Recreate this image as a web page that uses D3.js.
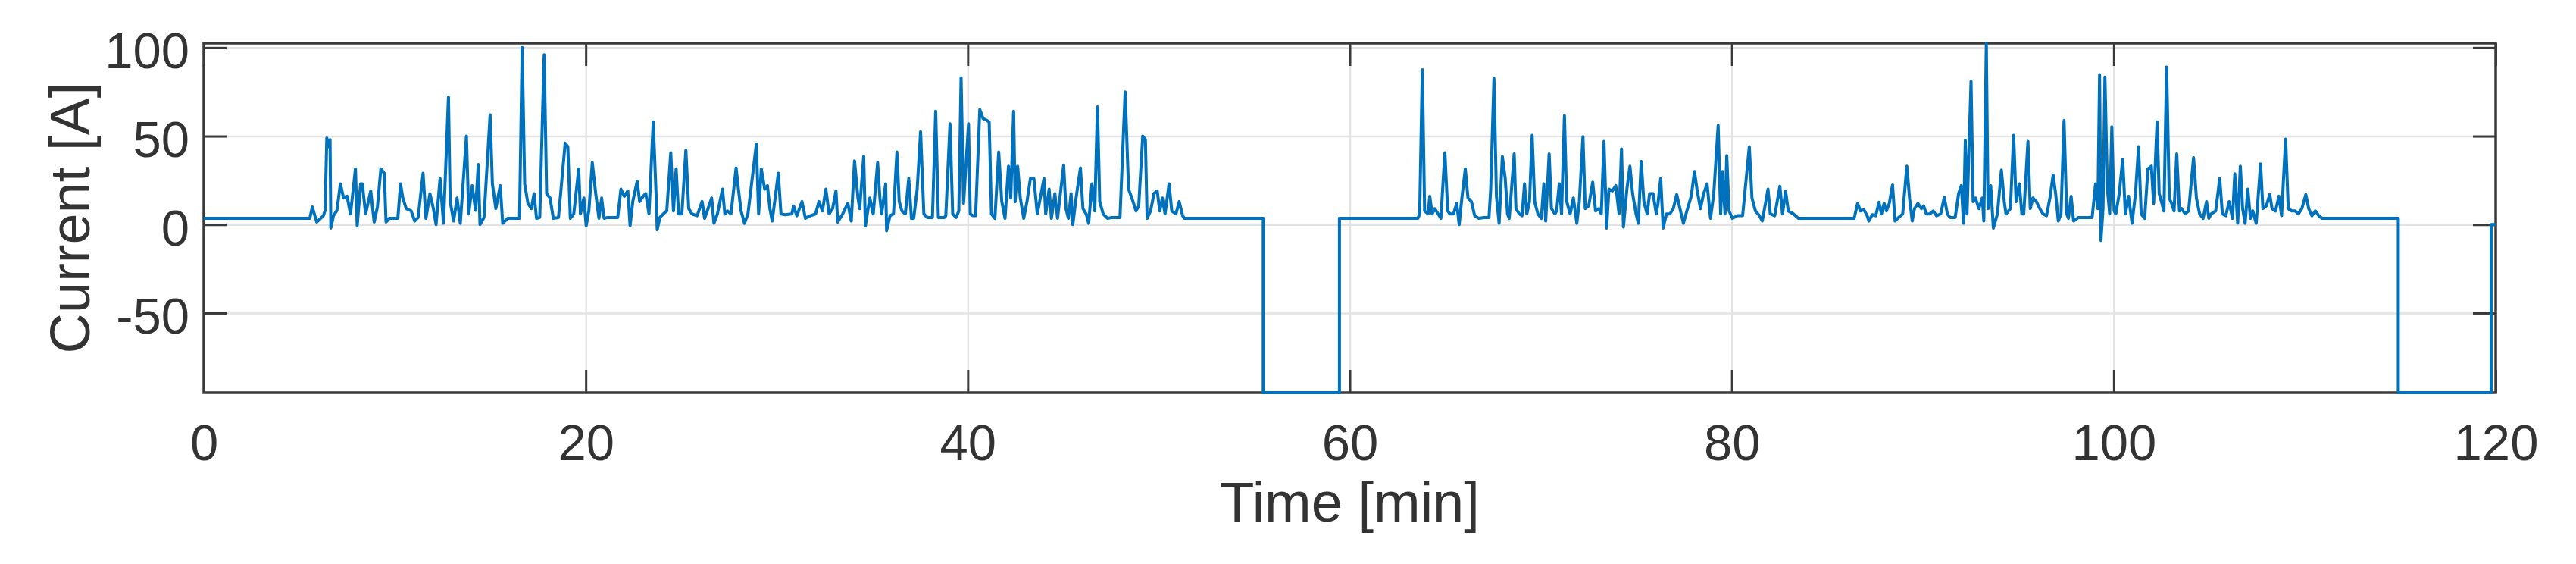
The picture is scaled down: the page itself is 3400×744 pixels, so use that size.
<!DOCTYPE html>
<html>
<head>
<meta charset="utf-8">
<script src="https://cdn.jsdelivr.net/npm/d3@7"></script>
<style>
  body { margin: 0; background: #fff; }
  svg { display: block; }
</style>
</head>
<body>
<svg id="chart" width="3400" height="744"></svg>
<script>
// * axis ticks and limits
const xTicks = [0, 20, 40, 60, 80, 100, 120];
const yTicks = [-50, 0, 50, 100];
const xLimits = [0, 120];
const yLimits = [-95, 102.5];

// * [time min, current A]
const drive1 = [
  [0, 3.5], [5.55, 3.5], [5.68, 10], [5.91, 1.4], [6.26, 5], [6.35, 8], [6.44, 49], [6.53, 44], [6.61, 48], [6.65, -2],
  [6.79, 5], [6.97, 8], [7.15, 23], [7.32, 15], [7.5, 16], [7.68, 6], [7.94, 31.5], [8.03, -0.7], [8.21, 23], [8.3, 23],
  [8.47, 6], [8.74, 19], [8.92, 1.4], [9.09, 10], [9.27, 31.5], [9.45, 29], [9.54, 1.4], [9.71, 3.5], [10.16, 3.5], [10.3, 23],
  [10.42, 15], [10.6, 9], [10.86, 7.7], [11.04, 2], [11.22, 4], [11.48, 29], [11.63, 3.5], [11.84, 17.5], [12.02, 9], [12.16, 0],
  [12.37, 26], [12.55, 0.7], [12.81, 72], [12.9, 13], [13.08, 2], [13.26, 15], [13.43, 0.7], [13.75, 50], [13.87, 6], [14.05, 22],
  [14.23, 8], [14.37, 34], [14.46, 0], [14.67, 4], [14.99, 62], [15.11, 23], [15.29, 9], [15.52, 22], [15.65, 0.7], [15.91, 3.5],
  [16.53, 3.5], [16.67, 100], [16.8, 23], [16.97, 12], [17.15, 9], [17.29, 17.5], [17.42, 3.5], [17.59, 4], [17.82, 96], [17.95, 17.5],
  [18.13, 15], [18.3, 3.5], [18.57, 4], [18.92, 46], [19.06, 44], [19.19, 3.5], [19.37, 6], [19.63, 31.5], [19.72, 6], [19.9, 15],
  [20.02, -0.7], [20.16, 7.7], [20.34, 35], [20.52, 17.5], [20.69, 3.5], [20.83, 15], [20.96, 3.5], [21.14, 4], [21.67, 4], [21.84, 20],
  [22.02, 16], [22.2, 19], [22.32, -0.7], [22.46, 13], [22.69, 24.5], [22.82, 13], [23.0, 16], [23.14, 17.5], [23.31, 6], [23.53, 58],
  [23.67, 20], [23.74, -3], [23.88, 4], [24.06, 6], [24.24, 7.7], [24.45, 40.6], [24.59, 7.7], [24.73, 31.5], [24.86, 6], [25.03, 6],
  [25.24, 42], [25.39, 9], [25.56, 6], [25.83, 5], [26.09, 13], [26.22, 3.5], [26.36, 7.7], [26.59, 15], [26.71, 0.7], [26.89, 6],
  [27.16, 20], [27.28, 6], [27.42, 7.7], [27.6, 6], [27.87, 32], [27.99, 20], [28.13, 7.7], [28.31, 0.7], [28.49, 6], [28.93, 45.5],
  [29.05, 6], [29.19, 31.5], [29.37, 20], [29.51, 22], [29.64, 9], [29.76, 2], [30.08, 29], [30.22, 6], [30.43, 5.6], [30.79, 6],
  [30.88, 10.5], [31.05, 5], [31.32, 13], [31.5, 3.5], [31.76, 5], [32.03, 6], [32.21, 13], [32.39, 7.7], [32.57, 20], [32.74, 6],
  [32.92, 9], [33.1, 19], [33.19, 1.4], [33.45, 6], [33.72, 12], [33.9, 2], [34.07, 36], [34.25, 15], [34.34, 9], [34.55, 38.5],
  [34.64, -0.7], [34.87, 15], [35.05, 6], [35.28, 35], [35.4, 15], [35.49, 6], [35.7, 23], [35.75, -3.5], [35.93, 5], [36.11, 6],
  [36.29, 41], [36.41, 13], [36.55, 7.7], [36.73, 6], [36.91, 26], [37.05, 3.5], [37.17, 3.5], [37.35, 20], [37.53, 52.5], [37.7, 6],
  [37.88, 4], [38.15, 4], [38.32, 64], [38.46, 4], [38.77, 4], [38.85, 5], [39.07, 57], [39.21, 6], [39.39, 4], [39.53, 7.7],
  [39.65, 83], [39.78, 12], [40.04, 57], [40.13, 6], [40.27, 5], [40.41, 5], [40.63, 65], [40.8, 60], [40.98, 59], [41.12, 58],
  [41.24, 6], [41.42, 3.5], [41.62, 41], [41.78, 13], [41.95, 3.5], [42.13, 33], [42.25, 15], [42.4, 64], [42.48, 13], [42.61, 33],
  [42.75, 15], [42.93, 3.5], [43.1, 13], [43.28, 26], [43.46, 26], [43.64, 6], [43.99, 26], [44.08, 6], [44.26, 20], [44.38, 3.5],
  [44.56, 17.5], [44.7, 3.5], [45.02, 33.6], [45.14, 9], [45.27, 3.5], [45.41, 17.5], [45.5, 0], [45.67, 15], [45.9, 32], [46.03, 9],
  [46.2, 6], [46.33, 0.7], [46.5, 23], [46.65, 7.7], [46.79, 66.5], [46.91, 13], [47.09, 6], [47.32, 3.5], [47.53, 4], [47.97, 4],
  [48.24, 75], [48.42, 20], [48.59, 15], [48.81, 7.7], [48.95, 10.5], [49.16, 50], [49.3, 48], [49.39, 3.5], [49.57, 7.7], [49.75, 17.5],
  [49.92, 19], [50.05, 7.7], [50.19, 15], [50.33, 6], [50.54, 23], [50.68, 7.7], [50.9, 6], [51.07, 13], [51.25, 5], [51.34, 3.5],
];

const charge1 = [
  [55.47, 3.5], [55.47, -95], [59.46, -95], [59.46, 3.5], [63.57, 3.5],
];

const drive2 = [
  [63.66, 6], [63.8, 87.5], [63.92, 7.7], [64.1, 6], [64.19, 16], [64.31, 6], [64.45, 9], [64.63, 6], [64.77, 3.5], [64.98, 40.6],
  [65.13, 7.7], [65.25, 6], [65.43, 6], [65.6, 12], [65.73, 0], [65.87, 15], [66.05, 31.5], [66.19, 15], [66.37, 13], [66.54, 5],
  [66.76, 3.5], [67.02, 4], [67.29, 4], [67.38, 20], [67.55, 82.6], [67.68, 16], [67.82, 0.7], [67.99, 38.5], [68.14, 26], [68.26, 6],
  [68.35, 3.5], [68.61, 40], [68.7, 9], [68.88, 6], [69.02, 5], [69.15, 23], [69.27, 6], [69.41, 13], [69.55, 50.4], [69.68, 13],
  [69.85, 6], [70.03, 3.5], [70.16, 23], [70.26, 2], [70.44, 40], [70.56, 9], [70.74, 6], [70.83, 7.7], [70.97, 23], [71.09, 6],
  [71.24, 61.6], [71.36, 13], [71.54, 6], [71.71, 15], [71.89, 0.7], [72.02, 13], [72.21, 49.7], [72.33, 9], [72.51, 10.5], [72.72, 24],
  [72.87, 7.7], [73.04, 9], [73.17, 6], [73.31, 47], [73.45, -2], [73.57, 20], [73.75, 19], [73.93, 22], [74.1, 6], [74.23, 42.7],
  [74.33, -1.4], [74.51, 20], [74.67, 33], [74.81, 17.5], [74.99, 6], [75.11, 0.7], [75.26, 35.7], [75.4, 13], [75.57, 6], [75.7, 17.5],
  [75.88, 17.5], [76.05, 6], [76.14, 12], [76.28, 26], [76.41, -2], [76.58, 6], [76.76, 6], [76.94, 9], [77.12, 17], [77.29, 9],
  [77.47, 0.7], [77.65, 7.7], [77.88, 16], [78.05, 30], [78.18, 20], [78.36, 9], [78.53, 17.5], [78.71, 23], [78.89, 3.5], [79.06, 17.5],
  [79.29, 56], [79.42, 6], [79.51, 30], [79.65, 6], [79.74, 39], [79.86, 7.7], [80.04, 3.5], [80.3, 5], [80.57, 5], [80.92, 44],
  [81.06, 15], [81.24, 7.7], [81.45, 5], [81.6, 2], [81.9, 20], [82.02, 6], [82.25, 5], [82.52, 21.7], [82.66, 6], [82.82, 19],
  [82.96, 7.7], [83.23, 6], [83.49, 3.5], [86.41, 3.5],
];

const drive3 = [
  [86.59, 12], [86.74, 7.7], [86.92, 8.4], [87.09, 5], [87.18, 2], [87.36, 5.6], [87.54, 5], [87.71, 12.6], [87.84, 6], [87.98, 12],
  [88.1, 7.7], [88.25, 12], [88.42, 22.4], [88.55, 2], [88.69, 3.5], [88.95, 6], [89.17, 33], [89.31, 15], [89.45, 2], [89.57, 9],
  [89.75, 12], [89.93, 9], [90.05, 10.5], [90.19, 6], [90.37, 6], [90.55, 7.7], [90.72, 5], [90.94, 6], [91.13, 15.4], [91.29, 6],
  [91.43, 4], [91.7, 4], [91.88, 17.5], [92.02, 22], [92.14, 0.7], [92.23, 47.6], [92.32, 6], [92.53, 81], [92.64, 13], [92.76, 15],
  [92.94, 9], [93.12, 15], [93.2, 2], [93.33, 102.5], [93.42, 9], [93.56, 22], [93.7, -2], [93.91, 6], [94.12, 30.8], [94.27, 13],
  [94.36, 6], [94.59, 9], [94.76, 50.4], [94.89, 13], [95.06, 23], [95.19, 6], [95.29, 6], [95.51, 47], [95.63, 9], [95.77, 15],
  [95.95, 13], [96.13, 9], [96.3, 6], [96.48, 5], [96.66, 15], [96.83, 28], [96.96, 17.5], [97.1, 2], [97.24, 6], [97.4, 58.8],
  [97.54, 6], [97.63, 3.5], [97.77, 16], [97.9, 2], [98.16, 4], [98.87, 4], [99.05, 23], [99.17, 9], [99.26, 84.7], [99.33, -9],
  [99.44, 9], [99.54, 83.3], [99.67, 20], [99.79, 6], [99.9, 55.3], [100.02, 7.7], [100.11, 6], [100.29, 17.5], [100.47, 37], [100.61, 6],
  [100.78, 16], [100.96, 0.7], [101.14, 17.5], [101.3, 44], [101.44, 6], [101.62, 3.5], [101.79, 31.5], [101.97, 33], [102.09, 12], [102.27, 58],
  [102.38, 17.5], [102.5, 13], [102.63, 7.7], [102.77, 89], [102.91, 15], [103.03, 12], [103.16, 7.7], [103.3, 40], [103.44, 7.7], [103.56, 9],
  [103.74, 6], [103.92, 7.7], [104.18, 37.8], [104.33, 15], [104.5, 6], [104.68, 3.5], [104.86, 13], [104.98, 3.5], [105.1, 6], [105.34, 7.7],
  [105.55, 26], [105.69, 6], [105.87, 5], [106.04, 13], [106.22, 3.5], [106.34, 28.7], [106.49, 0.7], [106.63, 33], [106.75, 9], [106.88, 0.7],
  [107.02, 20], [107.16, 3.5], [107.28, 7.7], [107.46, 0.7], [107.69, 34.3], [107.81, 9], [107.99, 10.5], [108.17, 17], [108.29, 9], [108.47, 7.7],
  [108.65, 16], [108.79, 5], [109.0, 48.3], [109.14, 9], [109.32, 7.7], [109.5, 7.7], [109.67, 6], [109.85, 9], [110.06, 17], [110.21, 9],
  [110.38, 5], [110.56, 7.7], [110.74, 5], [110.91, 3.5],
];

const charge2 = [
  [114.9, 3.5], [114.9, -95], [119.76, -95], [119.76, 0], [120, 0],
];

const FONT = "'Liberation Sans', Arial, Helvetica, sans-serif";
const TEXT_COLOR = "#333333";
const TICK_LEN = 30;
const TICK_FONT = 67;
const LABEL_FONT = 74; // labels are 1.1x the tick text

const svg = d3.select("#chart");
const W = +svg.attr("width");
const H = +svg.attr("height");
const margin = { left: 269, right: 106, top: 57, bottom: 226 };
const width = W - margin.left - margin.right;
const height = H - margin.top - margin.bottom;

const x = d3.scaleLinear().domain(xLimits).range([0, width]);
const y = d3.scaleLinear().domain(yLimits).range([height, 0]);

// plain hyphen for negatives, like the original
const plain = (d) => String(d);

const g = svg.append("g").attr("transform", `translate(${margin.left}, ${margin.top})`);

// region Grid
g.append("g")
  .attr("transform", `translate(0, ${height})`)
  .call(d3.axisBottom(x).tickValues(xTicks).tickSize(-height).tickFormat(""))
  .call((a) => a.select(".domain").remove())
  .call((a) => a.selectAll("line").attr("stroke", "#e3e3e3").attr("stroke-width", 2.5));

g.append("g")
  .call(d3.axisLeft(y).tickValues(yTicks).tickSize(-width).tickFormat(""))
  .call((a) => a.select(".domain").remove())
  .call((a) => a.selectAll("line").attr("stroke", "#e3e3e3").attr("stroke-width", 2.5));
// endregion Grid

// * box
g.append("rect")
  .attr("width", width)
  .attr("height", height)
  .attr("fill", "none")
  .attr("stroke", "#3a3a3a")
  .attr("stroke-width", 3.5);

// region Axis
const styleAxis = (a) => {
  a.select(".domain").remove();
  a.selectAll("line").attr("stroke", "#3a3a3a").attr("stroke-width", 3);
  a.attr("font-family", FONT).attr("font-size", TICK_FONT);
  a.selectAll("text").attr("fill", TEXT_COLOR);
};

g.append("g")
  .attr("transform", `translate(0, ${height})`)
  .call(d3.axisBottom(x).tickValues(xTicks).tickFormat(plain).tickSize(-TICK_LEN).tickPadding(41))
  .call(styleAxis);

g.append("g")
  .call(d3.axisTop(x).tickValues(xTicks).tickSize(-TICK_LEN).tickFormat(""))
  .call(styleAxis);

g.append("g")
  .call(d3.axisLeft(y).tickValues(yTicks).tickFormat(plain).tickSize(-TICK_LEN).tickPadding(19))
  .call(styleAxis)
  .call((a) => a.selectAll("text").attr("dy", "0.4em"));

g.append("g")
  .attr("transform", `translate(${width}, 0)`)
  .call(d3.axisRight(y).tickValues(yTicks).tickSize(-TICK_LEN).tickFormat(""))
  .call(styleAxis);
// endregion Axis

// * current trace
const trace = [].concat(drive1, charge1, drive2, drive3, charge2);
const line = d3.line().x((d) => x(d[0])).y((d) => y(d[1]));

g.append("path")
  .datum(trace)
  .attr("d", line)
  .attr("fill", "none")
  .attr("stroke", "#0072BD")
  .attr("stroke-width", 4)
  .attr("stroke-linejoin", "round");

// * labels
svg.append("text")
  .attr("x", margin.left + width / 2)
  .attr("y", 688)
  .attr("text-anchor", "middle")
  .attr("font-family", FONT)
  .attr("font-size", LABEL_FONT)
  .attr("fill", TEXT_COLOR)
  .text("Time [min]");

svg.append("text")
  .attr("transform", `translate(118, ${margin.top + height / 2}) rotate(-90)`)
  .attr("text-anchor", "middle")
  .attr("font-family", FONT)
  .attr("font-size", LABEL_FONT)
  .attr("fill", TEXT_COLOR)
  .text("Current [A]");
</script>
</body>
</html>
